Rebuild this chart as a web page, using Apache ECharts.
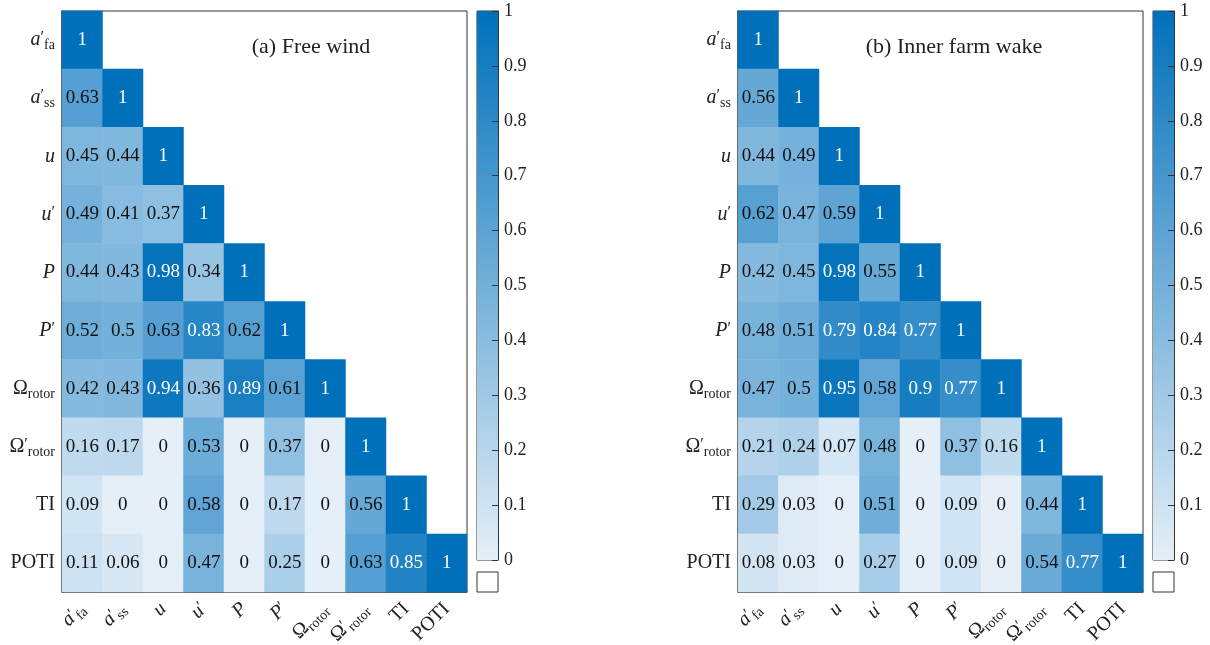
<!DOCTYPE html>
<html><head><meta charset="utf-8">
<script src="https://cdn.jsdelivr.net/npm/echarts@6/dist/echarts.min.js"></script>
<style>html,body{margin:0;padding:0;background:#fff}#c{width:1210px;height:645px}</style>
</head><body><div id="c"></div>
<script>
const categories = ['afa','ass','u','up','P','Pp','Or','Orp','TI','POTI'];
const tickLabels = {
  afa: '{it|a}{pr|′}{sub|fa}', ass: '{it|a}{pr|′}{sub|ss}', u: '{it|u}', up: '{it|u}{pr|′}',
  P: '{it|P}', Pp: '{it|P}{pr|′}', Or: '{rm|Ω}{sub|rotor}', Orp: '{rm|Ω}{pr|′}{sub|rotor}',
  TI: '{rm|TI}', POTI: '{rm|POTI}'
};
const freeWind = [
  [1],
  [0.63, 1],
  [0.45, 0.44, 1],
  [0.49, 0.41, 0.37, 1],
  [0.44, 0.43, 0.98, 0.34, 1],
  [0.52, 0.5, 0.63, 0.83, 0.62, 1],
  [0.42, 0.43, 0.94, 0.36, 0.89, 0.61, 1],
  [0.16, 0.17, 0, 0.53, 0, 0.37, 0, 1],
  [0.09, 0, 0, 0.58, 0, 0.17, 0, 0.56, 1],
  [0.11, 0.06, 0, 0.47, 0, 0.25, 0, 0.63, 0.85, 1]
];
const innerWake = [
  [1],
  [0.56, 1],
  [0.44, 0.49, 1],
  [0.62, 0.47, 0.59, 1],
  [0.42, 0.45, 0.98, 0.55, 1],
  [0.48, 0.51, 0.79, 0.84, 0.77, 1],
  [0.47, 0.5, 0.95, 0.58, 0.9, 0.77, 1],
  [0.21, 0.24, 0.07, 0.48, 0, 0.37, 0.16, 1],
  [0.29, 0.03, 0, 0.51, 0, 0.09, 0, 0.44, 1],
  [0.08, 0.03, 0, 0.27, 0, 0.09, 0, 0.54, 0.77, 1]
];
const titles = ['(a) Free wind', '(b) Inner farm wake'];

const LIGHT = '#e5eff8', DARK = '#0070bb';
const SERIF = '"Liberation Serif", "DejaVu Serif", serif';
const rich = {
  it: {fontStyle: 'italic', fontSize: 20, fontFamily: SERIF, color: '#222'},
  rm: {fontSize: 20, fontFamily: SERIF, color: '#222'},
  pr: {fontSize: 16, fontFamily: SERIF, color: '#222', padding: [0, 0, 4, 0]},
  sub: {fontSize: 14, fontFamily: SERIF, color: '#222', padding: [11, 0, 0, 0]}
};
function toData(m) {
  const out = [];
  m.forEach((row, i) => row.forEach((v, j) => {
    out.push({value: [j, i, v], label: {color: v > 0.7 ? '#fff' : '#111'}});
  }));
  return out;
}
const plots = [
  {left: 62, cb: 477, data: freeWind, title: titles[0], tx: 306},
  {left: 738, cb: 1153, data: innerWake, title: titles[1], tx: 949}
];
const grid = [], xAxis = [], yAxis = [], series = [], visualMap = [], title = [];
plots.forEach((p, k) => {
  const g0 = grid.length;
  grid.push({left: p.left, top: 11, width: 405, height: 581, show: true, borderColor: '#333', borderWidth: 1, backgroundColor: '#fff', outerBoundsMode: 'none', containLabel: false});
  grid.push({left: p.cb, top: 11, width: 21, height: 549, show: true, borderColor: '#333', borderWidth: 1, outerBoundsMode: 'none', containLabel: false});
  grid.push({left: p.cb, top: 572, width: 21, height: 20, show: true, borderColor: '#333', borderWidth: 1, backgroundColor: '#fff', outerBoundsMode: 'none', containLabel: false});
  xAxis.push({gridIndex: g0, type: 'category', data: categories,
    axisLine: {lineStyle: {color: '#444', width: 1.5}}, axisTick: {show: false}, splitLine: {show: false},
    axisLabel: {rotate: 45, margin: 14, formatter: v => tickLabels[v], rich: rich, interval: 0}});
  yAxis.push({gridIndex: g0, type: 'category', data: categories, inverse: true,
    axisLine: {lineStyle: {color: '#444', width: 1.5}}, axisTick: {show: false}, splitLine: {show: false},
    axisLabel: {margin: 7, formatter: v => tickLabels[v], rich: rich, interval: 0}});
  xAxis.push({gridIndex: g0 + 1, type: 'category', data: ['cb'], show: false});
  yAxis.push({gridIndex: g0 + 1, type: 'value', min: 0, max: 1, interval: 0.1, position: 'right', z: 5,
    axisLine: {show: true, lineStyle: {color: '#333'}}, axisTick: {show: true, inside: true, length: 6, lineStyle: {color: '#333'}},
    splitLine: {show: false},
    axisLabel: {margin: 6, fontSize: 18, fontFamily: SERIF, color: '#222', formatter: v => String(Math.round(v * 10) / 10)}});
  xAxis.push({gridIndex: g0 + 2, type: 'category', data: ['nan'], show: false});
  yAxis.push({gridIndex: g0 + 2, type: 'value', show: false});
  const si = series.length;
  series.push({type: 'heatmap', xAxisIndex: g0, yAxisIndex: g0, data: toData(p.data),
    label: {show: true, fontSize: 19, fontFamily: SERIF, formatter: d => String(d.value[2])},
    emphasis: {disabled: true}});
  visualMap.push({type: 'continuous', show: false, min: 0, max: 1, seriesIndex: si, dimension: 2,
    inRange: {color: [LIGHT, DARK]}});
  series.push({type: 'bar', xAxisIndex: g0 + 1, yAxisIndex: g0 + 1, data: [1], barWidth: '100%', silent: true, z: 1,
    itemStyle: {color: new echarts.graphic.LinearGradient(0, 0, 0, 1, [{offset: 0, color: DARK}, {offset: 1, color: LIGHT}])}});
  title.push({text: p.title, left: p.tx, top: 31, textAlign: 'center',
    textStyle: {fontSize: 22, fontWeight: 'normal', fontFamily: SERIF, color: '#222'}});
});
const chart = echarts.init(document.getElementById('c'));
chart.setOption({animation: false, backgroundColor: '#fff', title, grid, xAxis, yAxis, visualMap, series});
</script></body></html>
